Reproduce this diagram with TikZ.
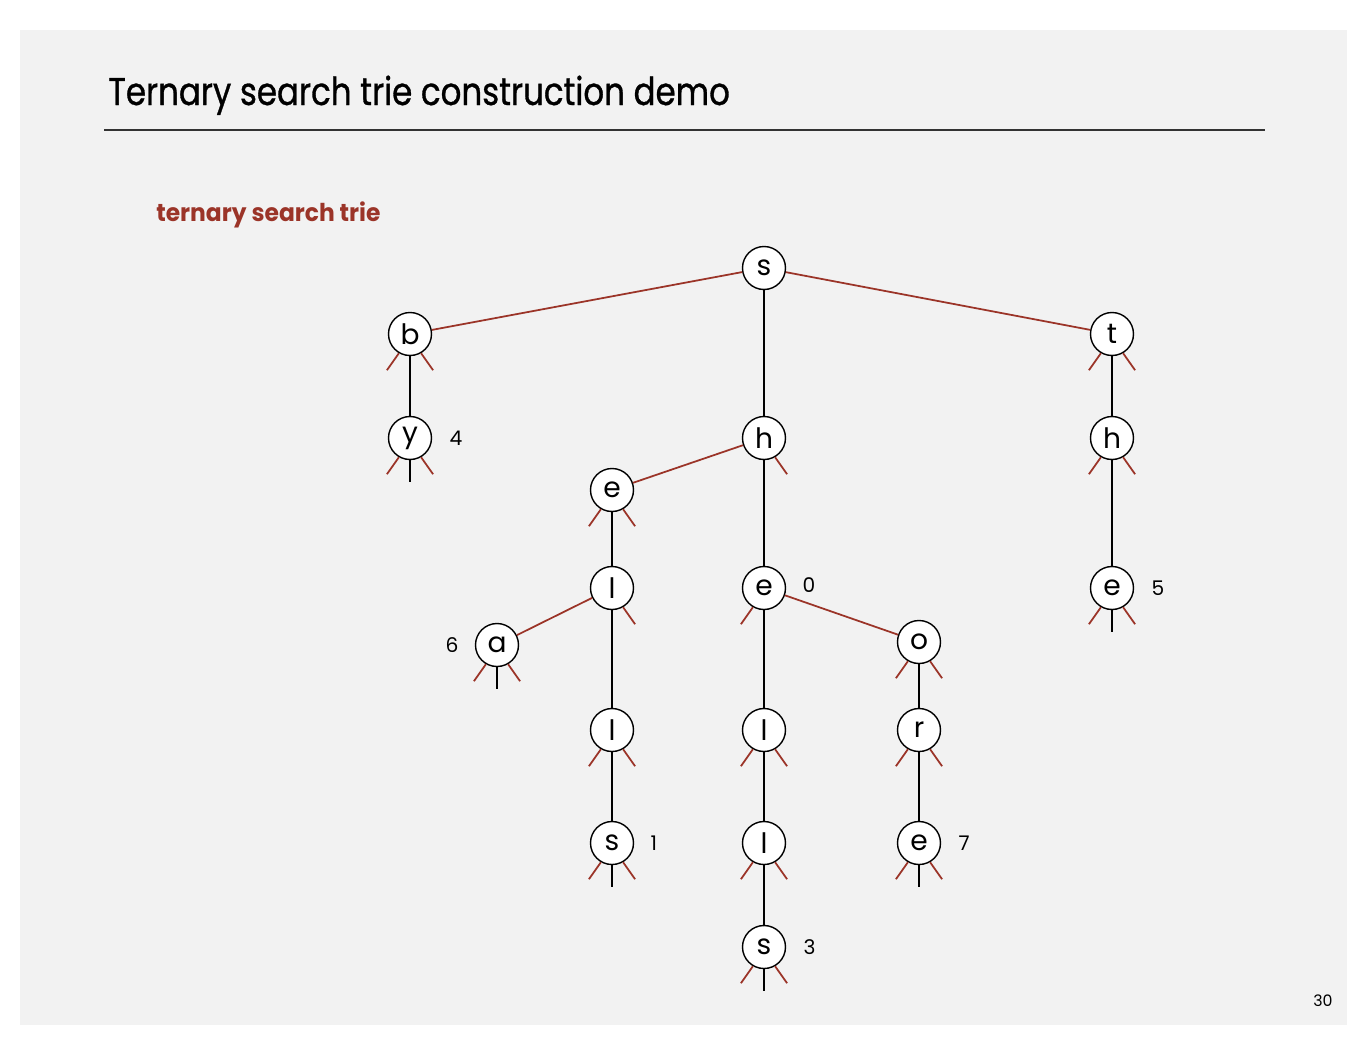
\documentclass[tikz,border=0pt]{standalone}
\usepackage{fontspec}
\setmainfont{Poppins}
\newfontfamily\titlefont{Poppins}[FakeStretch=0.84, FakeBold=0.8]
\newfontfamily\subfont{Poppins}[FakeStretch=0.95]
\usetikzlibrary{positioning}

\definecolor{trieRed}{RGB}{155,52,40}
\definecolor{slideGray}{RGB}{242,242,242}

\tikzset{
  tnode/.style={circle, draw, line width=0.8pt, fill=white, minimum size=0.86cm,
                inner sep=0pt, font=\fontsize{16}{16}\selectfont},
  lnk/.style={trieRed, line width=1pt},
  mlnk/.style={black, line width=1pt},
  val/.style={inner sep=0pt, font=\fontsize{11.5}{11.5}\selectfont},
}

\begin{document}
\begin{tikzpicture}[x=0.02cm, y=-0.02cm]
      \useasboundingbox (0,0) rectangle (1367,1056);
      \fill[white] (0,0) rectangle (1367,1056);
      \fill[slideGray] (20,30) rectangle (1347,1025);

      % title and rule
      \node[anchor=base west, inner sep=0pt, font=\titlefont\fontsize{22}{22}\selectfont] (title) at (108,105) {Ternary search trie construction demo};
      \draw[line width=1pt, black!80] (104,130) -- (1265,130);
      \node[anchor=base west, inner sep=0pt, text=trieRed, font=\subfont\fontsize{14}{14}\selectfont\bfseries] (sub) at (156,221) {ternary search trie};
      \node[inner sep=0pt, font=\fontsize{9}{9}\selectfont] (page) at (1323,1001) {30};

      % trie nodes
      \node[tnode] (s) at (764,268) {s};
      \node[tnode] (b) at (410,334) {b};
      \node[tnode] (by) at (410,438) {y};
      \node[tnode] (t) at (1112,334) {t};
      \node[tnode] (th) at (1112,438) {h};
      \node[tnode] (the) at (1112,588) {e};
      \node[tnode] (sh) at (764,438) {h};
      \node[tnode] (se) at (612,490) {e};
      \node[tnode] (sel) at (612,588) {l};
      \node[tnode] (sea) at (497,645) {a};
      \node[tnode] (sell) at (612,730) {l};
      \node[tnode] (sells) at (612,843) {s};
      \node[tnode] (she) at (764,588) {e};
      \node[tnode] (shel) at (764,730) {l};
      \node[tnode] (shell) at (764,843) {l};
      \node[tnode] (shells) at (764,947) {s};
      \node[tnode] (sho) at (919,642) {o};
      \node[tnode] (shor) at (919,730) {r};
      \node[tnode] (shore) at (919,843) {e};

      % values
      \node[val, right=0.34cm of by] (v4) {4};
      \node[val, right=0.34cm of the] (v5) {5};
      \node[val, left=0.32cm of sea] (v6) {6};
      \node[val, right=0.32cm of sells] (v1) {1};
      \node[val, right=0.32cm of she, yshift=0.06cm] (v0) {0};
      \node[val, right=0.34cm of shells] (v3) {3};
      \node[val, right=0.34cm of shore] (v7) {7};

      % links
      \draw[lnk] (s) -- (b);
      \draw[lnk] (s) -- (t);
      \draw[lnk] (sh) -- (se);
      \draw[lnk] (sel) -- (sea);
      \draw[lnk] (she) -- (sho);
      \draw[mlnk] (s) -- (sh);
      \draw[mlnk] (b) -- (by);
      \draw[mlnk] (t) -- (th);
      \draw[mlnk] (th) -- (the);
      \draw[mlnk] (sh) -- (she);
      \draw[mlnk] (se) -- (sel);
      \draw[mlnk] (sel) -- (sell);
      \draw[mlnk] (sell) -- (sells);
      \draw[mlnk] (she) -- (shel);
      \draw[mlnk] (shel) -- (shell);
      \draw[mlnk] (shell) -- (shells);
      \draw[mlnk] (sho) -- (shor);
      \draw[mlnk] (shor) -- (shore);

      % null links
      \foreach \n in {b,by,t,th,the,se,sea,sell,sells,she,sho,shor,shore,shel,shell,shells}
        \draw[lnk] (\n.240) -- ++(-12,17);
      \foreach \n in {b,by,t,th,the,sh,se,sel,sea,sell,sells,sho,shor,shore,shel,shell,shells}
        \draw[lnk] (\n.300) -- ++(12,17);
      \foreach \n in {by,the,sea,sells,shore,shells}
        \draw[mlnk] (\n.south) -- ++(0,22);
\end{tikzpicture}
\end{document}
